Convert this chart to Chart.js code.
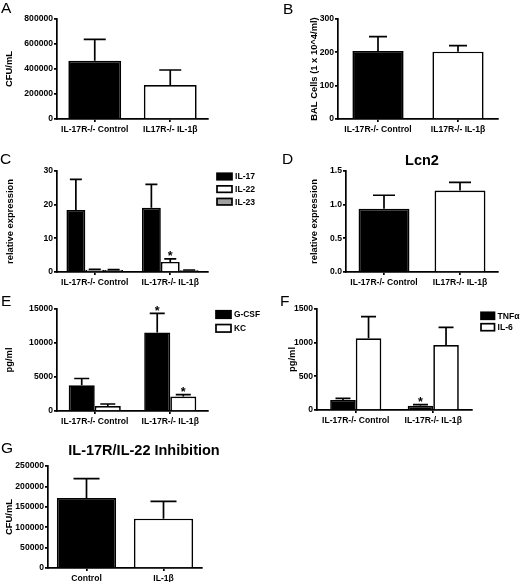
<!DOCTYPE html>
<html>
<head>
<meta charset="utf-8">
<title>IL-17R / IL-1b panels</title>
<script src="https://cdn.jsdelivr.net/npm/chart.js@4.4.0/dist/chart.umd.min.js"></script>
<style>
  body { margin: 0; background: #fff; }
  #fig { position: relative; width: 520px; height: 582px; overflow: hidden; font-family: 'Liberation Sans', Arial, sans-serif; color: #000; }
  canvas { position: absolute; }
  .tag { position: absolute; font-size: 15.5px; line-height: 15px; }
  .ttl { position: absolute; font-size: 14.5px; line-height: 14.5px; font-weight: bold; text-align: center; white-space: nowrap; }
</style>
</head>
<body>
<div id="fig">
  <canvas id="cA" width="260" height="145" style="left:0;top:0"></canvas>
  <canvas id="cB" width="260" height="145" style="left:260px;top:0"></canvas>
  <canvas id="cC" width="260" height="143" style="left:0;top:145px"></canvas>
  <canvas id="cD" width="260" height="143" style="left:260px;top:145px"></canvas>
  <canvas id="cE" width="270" height="140" style="left:0;top:288px"></canvas>
  <canvas id="cF" width="260" height="140" style="left:260px;top:288px"></canvas>
  <canvas id="cG" width="260" height="152" style="left:0;top:430px"></canvas>

  <div class="tag" style="left:1px;top:0px">A</div>
  <div class="tag" style="left:283px;top:1px">B</div>
  <div class="tag" style="left:0px;top:151px">C</div>
  <div class="tag" style="left:282px;top:151px">D</div>
  <div class="tag" style="left:1px;top:293px">E</div>
  <div class="tag" style="left:280px;top:293px">F</div>
  <div class="tag" style="left:1px;top:440px">G</div>

  <div class="ttl" style="left:372px;width:100px;top:153px">Lcn2</div>
  <div class="ttl" style="left:44px;width:200px;top:443px">IL-17R/IL-22 Inhibition</div>
</div>

<script>
// categories
var groupsA = ['IL-17R-/- Control', 'IL17R-/- IL-1\u03b2'];
var groupsC = ['IL-17R-/- Control', 'IL-17R-/- IL-1\u03b2'];
var groupsG = ['Control', 'IL-1\u03b2'];

// A - CFU/mL
var cfuMean = [466000, 272000];
var cfuSem  = [171000, 120000];
var cfuTicks = [0, 200000, 400000, 600000, 800000];

// B - BAL cells
var balMean = [204, 202];
var balSem  = [43, 18];
var balTicks = [0, 100, 200, 300];

// C - relative expression
var il17Mean = [18.4, 19.1], il17Sem = [9.1, 6.9];
var il22Mean = [0.7, 3.0],   il22Sem = [0.1, 0.9];
var il23Mean = [0.6, 0.5],   il23Sem = [0.1, 0.1];
var il22Star = [false, true];
var exprTicks = [0, 10, 20, 30];

// D - Lcn2
var lcn2Mean = [0.94, 1.21];
var lcn2Sem  = [0.20, 0.12];
var lcn2Ticks = [0, 0.5, 1.0, 1.5];

// E - G-CSF / KC
var gcsfMean = [3790, 11560], gcsfSem = [990, 2810];
var kcMean   = [740, 2120],   kcSem   = [290, 300];
var gcsfStar = [false, true], kcStar = [false, true];
var eTicks = [0, 5000, 10000, 15000];

// F - TNFa / IL-6
var tnfMean = [148, 64],    tnfSem = [26, 15];
var il6Mean = [1065, 965],  il6Sem = [321, 263];
var tnfStar = [false, true];
var fTicks = [0, 500, 1000, 1500];

// G - inhibition CFU
var inhMean = [171600, 121000];
var inhSem  = [47400, 42500];
var gTicks = [0, 50000, 100000, 150000, 200000, 250000];

var FONT = "'Liberation Sans', Arial, sans-serif";
var LW = 1.7;
Chart.defaults.font.family = FONT;
Chart.defaults.color = '#000';

// upper error bars + significance stars
var errorBars = {
  id: 'errorBars',
  afterDatasetsDraw: function(chart, args, opts) {
    var ctx = chart.ctx, y = chart.scales.y;
    chart.data.datasets.forEach(function(ds, i) {
      chart.getDatasetMeta(i).data.forEach(function(bar, j) {
        var top = y.getPixelForValue(ds.data[j] + ds.sem[j]);
        var half = opts.cap / 2;
        ctx.save();
        ctx.strokeStyle = '#000';
        ctx.lineWidth = LW;
        ctx.beginPath();
        ctx.moveTo(bar.x, bar.y);
        ctx.lineTo(bar.x, top);
        ctx.moveTo(bar.x - half, top);
        ctx.lineTo(bar.x + half, top);
        ctx.stroke();
        if (ds.star && ds.star[j]) {
          ctx.fillStyle = '#000';
          ctx.font = 'bold 12.5px ' + FONT;
          ctx.textAlign = 'center';
          ctx.textBaseline = 'alphabetic';
          ctx.fillText('*', bar.x, top + 1.5);
        }
        ctx.restore();
      });
    });
  }
};

// small box legend at a fixed spot
var boxLegend = {
  id: 'boxLegend',
  afterDraw: function(chart, args, o) {
    if (o.x === undefined) return;
    var ctx = chart.ctx;
    chart.data.datasets.forEach(function(ds, i) {
      var cy = o.y + i * o.step;
      ctx.save();
      ctx.fillStyle = ds.backgroundColor;
      ctx.fillRect(o.x, cy - o.h / 2, o.w, o.h);
      ctx.strokeStyle = '#000';
      ctx.lineWidth = LW;
      ctx.strokeRect(o.x, cy - o.h / 2, o.w, o.h);
      ctx.fillStyle = '#000';
      ctx.font = 'bold ' + o.size + 'px ' + FONT;
      ctx.textBaseline = 'middle';
      ctx.fillText(ds.label, o.x + o.w + 3, cy + 0.5);
      ctx.restore();
    });
  }
};

function yScale(max, ticks, title, width, fmt) {
  return {
    min: 0, max: max,
    afterBuildTicks: function(s) { s.ticks = ticks.map(function(v) { return { value: v }; }); },
    afterFit: function(s) { s.width = width; },
    grid: { drawOnChartArea: false, drawTicks: true, tickLength: 3, color: '#000', lineWidth: LW },
    border: { color: '#000', width: LW },
    ticks: { padding: 1, autoSkip: false, font: { size: 8.6, weight: 'bold' }, color: '#000',
             callback: fmt || function(v) { return String(v); } },
    title: { display: true, text: title, color: '#000', font: { size: 9.4, weight: 'bold' }, padding: { top: 4, bottom: 0 } }
  };
}

function xScale(height) {
  return {
    afterFit: function(s) { s.height = height; },
    grid: { drawOnChartArea: false, drawTicks: true, tickLength: 3, color: '#000', lineWidth: LW, offset: false },
    border: { color: '#000', width: LW },
    ticks: { padding: 2, autoSkip: false, maxRotation: 0, font: { size: 8.6, weight: 'bold' }, color: '#000' }
  };
}

function barPanel(id, c) {
  return new Chart(document.getElementById(id), {
    type: 'bar',
    data: { labels: c.labels, datasets: c.datasets },
    options: {
      responsive: false,
      animation: false,
      layout: { padding: c.pad },
      datasets: { bar: { categoryPercentage: c.cat, barPercentage: 1, borderColor: '#000', borderWidth: LW } },
      scales: { x: xScale(c.xh), y: c.y },
      plugins: {
        legend: { display: false },
        tooltip: { enabled: false },
        errorBars: { cap: c.cap },
        boxLegend: c.legend || {}
      }
    },
    plugins: [errorBars, boxLegend]
  });
}

barPanel('cA', {
  labels: groupsA, cat: 0.7, cap: 22, xh: 26,
  pad: { left: 0, top: 19, right: 52, bottom: 0 },
  y: yScale(800000, cfuTicks, 'CFU/mL', 57),
  datasets: [{ label: 'CFU/mL', data: cfuMean, sem: cfuSem, backgroundColor: ['#000', '#fff'] }]
});

barPanel('cB', {
  labels: groupsA, cat: 0.64, cap: 18, xh: 26,
  pad: { left: 45, top: 19, right: 22, bottom: 0 },
  y: yScale(300, balTicks, 'BAL Cells (1 x 10^4/ml)', 33),
  datasets: [{ label: 'BAL', data: balMean, sem: balSem, backgroundColor: ['#000', '#fff'] }]
});

barPanel('cC', {
  labels: groupsC, cat: 0.75, cap: 12, xh: 16,
  pad: { left: 1, top: 26, right: 52, bottom: 0 },
  y: yScale(30, exprTicks, 'relative expression', 56),
  legend: { x: 217, y: 31.5, step: 12.6, w: 15, h: 6.5, size: 8.6 },
  datasets: [
    { label: 'IL-17', data: il17Mean, sem: il17Sem, backgroundColor: '#000' },
    { label: 'IL-22', data: il22Mean, sem: il22Sem, star: il22Star, backgroundColor: '#fff' },
    { label: 'IL-23', data: il23Mean, sem: il23Sem, backgroundColor: '#a0a0a0' }
  ]
});

barPanel('cD', {
  labels: groupsA, cat: 0.67, cap: 22, xh: 16,
  pad: { left: 45, top: 26, right: 22, bottom: 0 },
  y: yScale(1.5, lcn2Ticks, 'relative expression', 41, function(v) { return v.toFixed(1); }),
  datasets: [{ label: 'Lcn2', data: lcn2Mean, sem: lcn2Sem, backgroundColor: ['#000', '#fff'] }]
});

barPanel('cE', {
  labels: groupsC, cat: 0.69, cap: 15, xh: 17,
  pad: { left: 0, top: 21, right: 62, bottom: 0 },
  y: yScale(15000, eTicks, 'pg/ml', 57),
  legend: { x: 216, y: 26.5, step: 13.8, w: 15, h: 7.5, size: 8.4 },
  datasets: [
    { label: 'G-CSF', data: gcsfMean, sem: gcsfSem, star: gcsfStar, backgroundColor: '#000' },
    { label: 'KC', data: kcMean, sem: kcSem, star: kcStar, backgroundColor: '#fff' }
  ]
});

barPanel('cF', {
  labels: groupsC, cat: 0.66, cap: 15, xh: 18,
  pad: { left: 23, top: 21, right: 48, bottom: 0 },
  y: yScale(1500, fTicks, 'pg/ml', 34),
  legend: { x: 221, y: 27.8, step: 11.4, w: 13.5, h: 7, size: 8.6 },
  datasets: [
    { label: 'TNF\u03b1', data: tnfMean, sem: tnfSem, star: tnfStar, backgroundColor: '#000' },
    { label: 'IL-6', data: il6Mean, sem: il6Sem, backgroundColor: '#fff' }
  ]
});

barPanel('cG', {
  labels: groupsG, cat: 0.77, cap: 26, xh: 14,
  pad: { left: 0, top: 36, right: 58, bottom: 0 },
  y: yScale(250000, gTicks, 'CFU/mL', 48),
  datasets: [{ label: 'CFU/mL', data: inhMean, sem: inhSem, backgroundColor: ['#000', '#fff'] }]
});
</script>
</body>
</html>
